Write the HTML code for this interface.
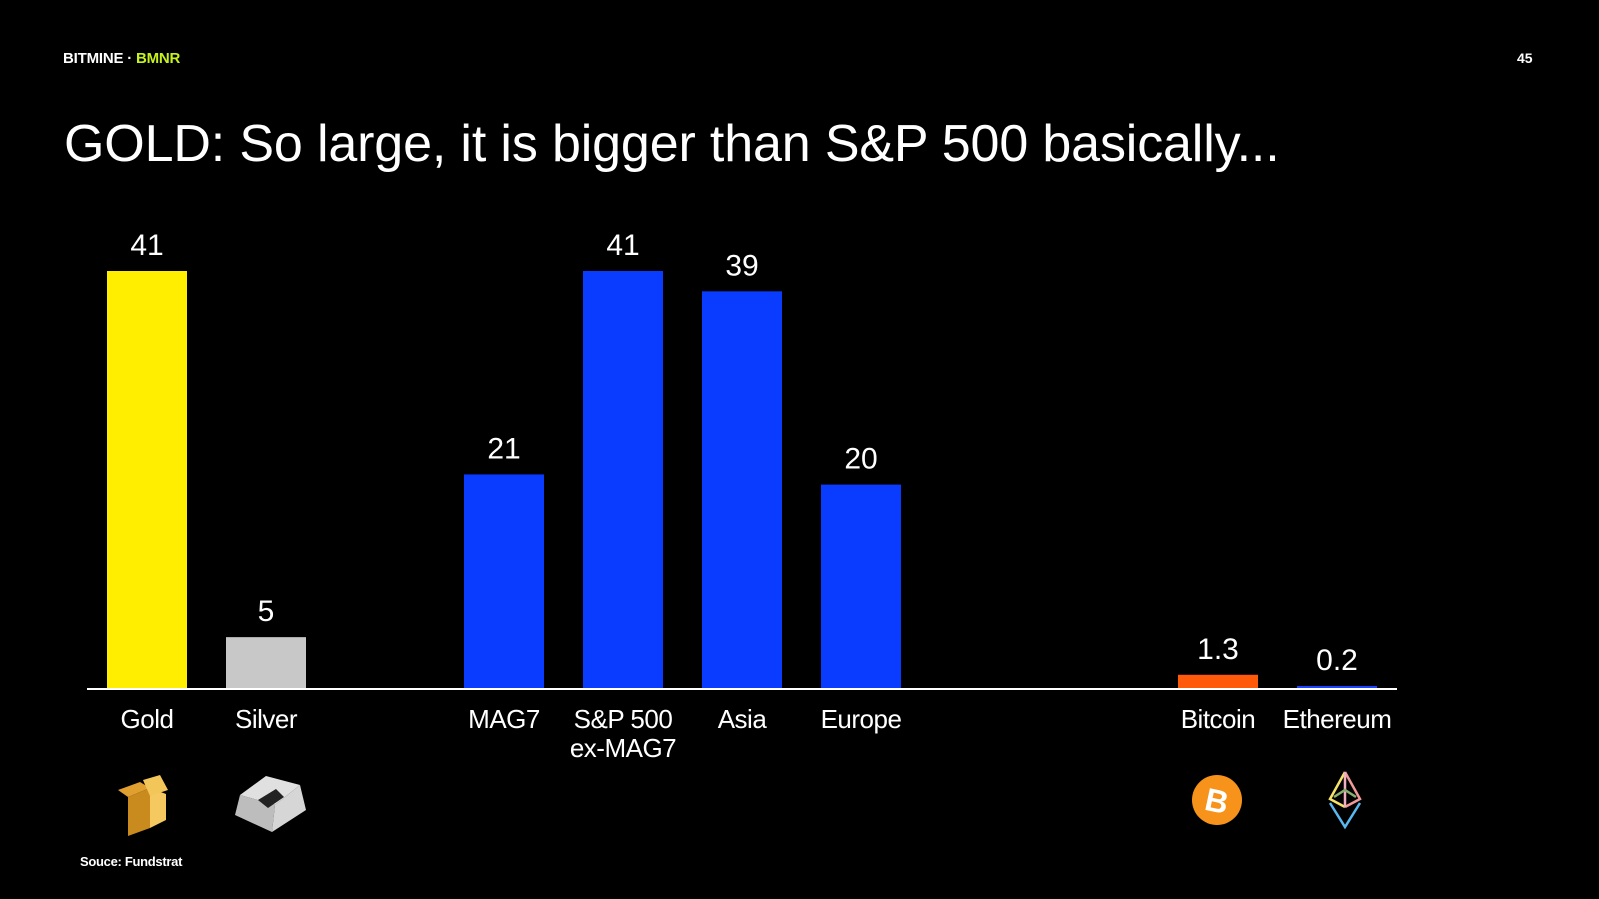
<!DOCTYPE html>
<html><head><meta charset="utf-8"><style>
html,body{margin:0;padding:0;background:#000;}
body{width:1599px;height:899px;position:relative;overflow:hidden;font-family:"Liberation Sans",sans-serif;color:#fff;}
.hdr{position:absolute;left:63px;top:50px;font-size:15px;font-weight:bold;letter-spacing:-0.2px;}
.pg{position:absolute;left:1517px;top:50px;font-size:14px;font-weight:bold;}
.title{position:absolute;left:64px;top:114px;font-size:52px;letter-spacing:-0.15px;}
.src{position:absolute;left:80px;top:854px;font-size:13px;font-weight:bold;letter-spacing:-0.3px;}
</style></head><body>
<div class="hdr">BITMINE · <span style="color:#c6f21b">BMNR</span></div>
<div class="pg">45</div>
<div class="title">GOLD: So large, it is bigger than S&amp;P 500 basically...</div>
<div class="src">Souce: Fundstrat</div>
<svg id="chart" width="1599" height="899" style="position:absolute;left:0;top:0"></svg>
<script>
const categories = ["Gold","Silver","MAG7","S&P 500|ex-MAG7","Asia","Europe","Bitcoin","Ethereum"];
const values = [41,5,21,41,39,20,1.3,0.2];
const valueLabels = ["41","5","21","41","39","20","1.3","0.2"];
const colors = ["#ffee00","#c8c8c8","#0a3cff","#0a3cff","#0a3cff","#0a3cff","#ff5a0a","#1a44ff"];
const slots = [0,1,3,4,5,6,9,10];

const NS="http://www.w3.org/2000/svg";
const svg=document.getElementById('chart');
const baseY=688, pxPerUnit=417/41, x0=147, step=119, barW=80;
function xScale(slot){return x0+slot*step;}
function yScale(v){return baseY-v*pxPerUnit;}
function mk(tag,attrs){const e=document.createElementNS(NS,tag);for(const k in attrs)e.setAttribute(k,attrs[k]);svg.appendChild(e);return e;}

categories.forEach((c,i)=>{
  const cx=xScale(slots[i]);
  const y=yScale(values[i]);
  const r=mk('rect',{x:cx-barW/2,y:y,width:barW,height:baseY-y,fill:colors[i]});
  
  
  const t=mk('text',{x:cx,y:y-16,'text-anchor':'middle','font-size':30,fill:'#fff','font-family':'Liberation Sans, sans-serif'});
  t.textContent=valueLabels[i];
  
  
  c.split('|').forEach((line,j)=>{
    const l=mk('text',{x:cx,y:728+j*29,'text-anchor':'middle','font-size':26,fill:'#fff','font-family':'Liberation Sans, sans-serif','letter-spacing':'-0.5'});
    l.textContent=line;
    
    
  });
});
const ax=mk('line',{x1:87,x2:1397,y1:baseY+1,y2:baseY+1,stroke:'#fff','stroke-width':2});


</script>
<svg width="1599" height="899" style="position:absolute;left:0;top:0;pointer-events:none">
<g>
<polygon points="118,790 140,782 150,788 128,797" fill="#e0a030"/>
<polygon points="128,797 150,788 150,828 128,836" fill="#c98a1e"/>
<polygon points="150,788 166,794 166,820 150,828" fill="#f5c860"/>
<polygon points="143,780 160,775 168,790 150,796" fill="#f3c65a"/>
</g>
<g>
<polygon points="240,795 266,776 300,785 275,805" fill="#e0e0e0"/>
<polygon points="235,815 240,795 275,805 272,832" fill="#bdbdbd"/>
<polygon points="275,805 300,785 306,810 272,832" fill="#d6d6d6"/>
<polygon points="258,800 276,789 284,797 268,808" fill="#222"/>
</g>
<g>
<circle cx="1217" cy="800" r="25" fill="#f7931a"/>
<text x="1217" y="812" text-anchor="middle" font-size="32" font-weight="bold" fill="#fff" font-family="Liberation Sans, sans-serif" transform="rotate(12 1217 800)">B</text>
</g>
<g fill="none" stroke-width="2.5">
<polyline points="1345,772 1330,799 1345,807" stroke="#f5e36a"/>
<polyline points="1345,772 1360,799 1345,807" stroke="#f09a9a"/>
<line x1="1345" y1="772" x2="1345" y2="807" stroke="#f0b0c0"/>
<polyline points="1330,803 1345,827 1360,803" stroke="#5ab8f0"/>
<polyline points="1334,797 1345,790 1356,797" stroke="#8ab070"/>
</g>
</svg>
</body></html>
